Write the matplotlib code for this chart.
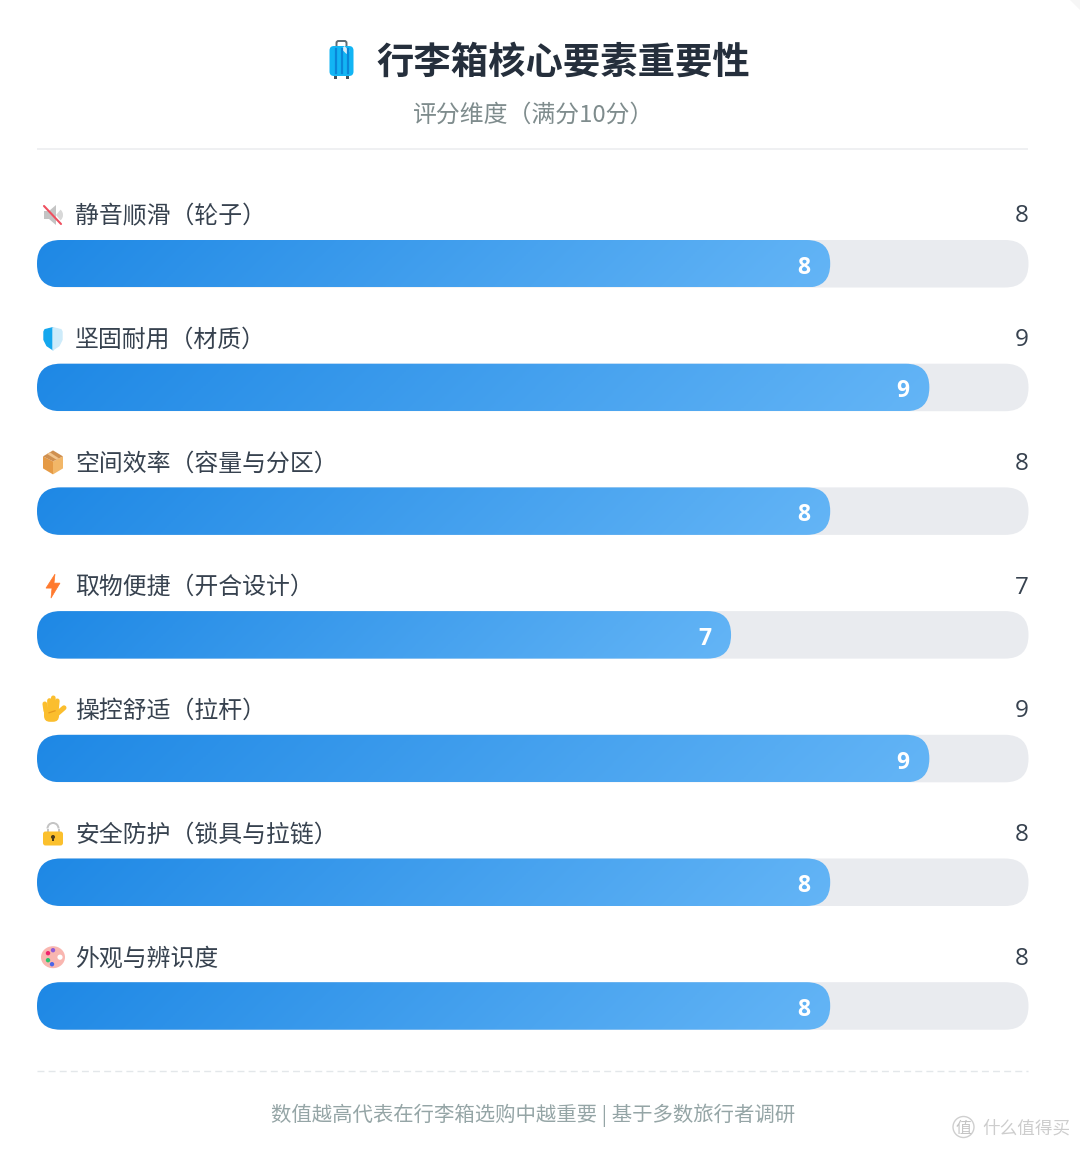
import numpy as np
import matplotlib
matplotlib.use("Agg")
import matplotlib.pyplot as plt
from matplotlib.patches import Circle, Ellipse, FancyBboxPatch, Polygon, Rectangle, Wedge
from matplotlib.colors import LinearSegmentedColormap

plt.rcParams["font.family"] = ["Noto Sans CJK SC", "DejaVu Sans"]

# Scores out of 10
labels = ["静音顺滑（轮子）", "坚固耐用（材质）", "空间效率（容量与分区）", "取物便捷（开合设计）",
          "操控舒适（拉杆）", "安全防护（锁具与拉链）", "外观与辨识度"]
scores = [8, 9, 8, 7, 9, 8, 8]
icons = ["mute", "shield", "box", "bolt", "hand", "lock", "palette"]

title = "行李箱核心要素重要性"
subtitle = "评分维度（满分10分）"
footer = "数值越高代表在行李箱选购中越重要 | 基于多数旅行者调研"
watermark = "什么值得买"

W, H = 1080, 1149
BAR_LEFT, BAR_RIGHT = 37, 1028.5
BAR_H = 47.5
RADIUS = 23.5
PX_PER_UNIT = (BAR_RIGHT - BAR_LEFT) / 10

fig = plt.figure(figsize=(W / 100, H / 100), dpi=100, facecolor="white")

# bars live on a 0-10 x scale, y stays in pixels
ax = fig.add_axes([BAR_LEFT / W, 0, (BAR_RIGHT - BAR_LEFT) / W, 1])
ax.set_axis_off()

# overlay in plain pixels for header, footer and icons
ov = fig.add_axes([0, 0, 1, 1], zorder=3)
ov.set_xlim(0, W)
ov.set_ylim(H, 0)
ov.set_axis_off()
ov.patch.set_alpha(0)

cmap = LinearSegmentedColormap.from_list("bar", ["#1E88E5", "#64B5F6"])


def pill(x1, top, color="none"):
    return FancyBboxPatch((0, top), x1, BAR_H,
                          boxstyle=f"round,pad=0,rounding_size={RADIUS / PX_PER_UNIT}",
                          mutation_aspect=PX_PER_UNIT, fc=color, ec="none")


def draw_bar(top, value):
    ax.add_patch(pill(10, top, "#E9EBEF"))
    w = value * PX_PER_UNIT
    # 135 degree gradient across the filled part
    xx, yy = np.meshgrid(np.linspace(0, w, 400), np.linspace(0, BAR_H, 24))
    grad = (xx + yy) / (w + BAR_H)
    im = ax.imshow(grad, extent=(0, value, top + BAR_H, top), cmap=cmap, vmin=0, vmax=1,
                   aspect="auto", interpolation="bilinear", zorder=2)
    clip = pill(value, top)
    ax.add_patch(clip)
    im.set_clip_path(clip)


def icon_mute(cx, cy):
    ov.add_patch(Polygon([(cx - 9, cy - 4), (cx - 4, cy - 4), (cx + 3, cy - 10), (cx + 3, cy + 10),
                          (cx - 4, cy + 4), (cx - 9, cy + 4)], fc="#C4C4C4", ec="none"))
    ov.add_patch(Wedge((cx + 3, cy), 7, -50, 50, fc="#D8D8D8", ec="none"))
    ov.plot([cx - 9, cx + 8], [cy - 9, cy + 9], color="#EF4F5F", lw=1.5, solid_capstyle="round")


def icon_shield(cx, cy):
    left = [(cx, cy - 11), (cx - 8, cy - 9), (cx - 9, cy - 7), (cx - 9, cy + 1), (cx - 6, cy + 7), (cx, cy + 11)]
    right = [(cx, cy - 11), (cx + 8, cy - 9), (cx + 9, cy - 7), (cx + 9, cy + 1), (cx + 6, cy + 7), (cx, cy + 11)]
    ov.add_patch(Polygon(left, fc="#14A7EE", ec="#14A7EE", lw=1, joinstyle="round"))
    ov.add_patch(Polygon(right, fc="#CDEBFA", ec="#CDEBFA", lw=1, joinstyle="round"))


def icon_box(cx, cy):
    ov.add_patch(Polygon([(cx - 10, cy - 6), (cx, cy - 1), (cx, cy + 12), (cx - 10, cy + 6)], fc="#E59A45", ec="none"))
    ov.add_patch(Polygon([(cx + 10, cy - 6), (cx, cy - 1), (cx, cy + 12), (cx + 10, cy + 6)], fc="#F2B768", ec="none"))
    ov.add_patch(Polygon([(cx - 10, cy - 6), (cx, cy - 12), (cx + 10, cy - 6), (cx, cy - 1)], fc="#CF9050", ec="none"))
    ov.add_patch(Polygon([(cx - 6, cy - 8.5), (cx - 3, cy - 10), (cx + 6, cy - 4), (cx + 3, cy - 3)], fc="#F2C48C", ec="none"))


def icon_bolt(cx, cy):
    pts = [(cx + 2, cy - 12), (cx - 7, cy + 2), (cx - 1, cy + 2), (cx - 2, cy + 12), (cx + 7, cy - 3), (cx + 1, cy - 3)]
    ov.add_patch(Polygon(pts, fc="#FF7A2E", ec="#FF7A2E", lw=0.5))


def icon_hand(cx, cy):
    yellow = "#FBBE2E"
    ov.add_patch(FancyBboxPatch((cx - 9, cy - 3), 15, 15, boxstyle="round,pad=0,rounding_size=6", fc=yellow, ec="none"))
    for dx, top, lean in [(-8, -6, -1), (-4.5, -10, 0), (-1, -12, 0.5), (2.5, -9, 1)]:
        ov.plot([cx + dx + 0.8, cx + dx + 0.8 + lean], [cy + 1, cy + top], color=yellow, lw=3.4, solid_capstyle="round")
    ov.plot([cx + 3, cx + 11], [cy + 5, cy - 2], color=yellow, lw=3.6, solid_capstyle="round")
    ov.plot([cx - 4, cx + 2], [cy + 3, cy + 1], color="#E69A1E", lw=0.9)


def icon_lock(cx, cy):
    ov.add_patch(Wedge((cx, cy - 5), 6.5, 180, 360, width=2, fc="#C4C4C4", ec="none"))
    ov.add_patch(Rectangle((cx - 6.5, cy - 5), 2, 5, fc="#C4C4C4", ec="none"))
    ov.add_patch(Rectangle((cx + 4.5, cy - 5), 2, 5, fc="#C4C4C4", ec="none"))
    ov.add_patch(FancyBboxPatch((cx - 10, cy - 2), 20, 14, boxstyle="round,pad=0,rounding_size=2.5", fc="#FBC02D", ec="none"))
    ov.add_patch(Circle((cx, cy + 3.5), 2, fc="#4A3A1A", ec="none"))
    ov.add_patch(Rectangle((cx - 0.8, cy + 3.5), 1.6, 4, fc="#4A3A1A", ec="none"))


def icon_palette(cx, cy):
    ov.add_patch(Ellipse((cx, cy), 24, 22, fc="#F9B6B0", ec="none"))
    ov.add_patch(Circle((cx + 7, cy), 2.6, fc="white", ec="none"))
    for dx, dy, c in [(-5, -4, "#F0246E"), (0, -7, "#8E5BD6"), (-5, 3, "#2CC36B"), (-1, 7, "#4A66E8")]:
        ov.add_patch(Circle((cx + dx, cy + dy), 2.2, fc=c, ec="none"))


def icon_suitcase(cx, cy):
    ov.add_patch(FancyBboxPatch((cx - 5, cy - 19), 10, 8, boxstyle="round,pad=0,rounding_size=2",
                                fc="none", ec="#5F6B73", lw=1.4))
    for dx in (-6, 6):
        ov.add_patch(Rectangle((cx + dx - 1.5, cy + 15), 3, 3.5, fc="#44505A", ec="none"))
    ov.add_patch(FancyBboxPatch((cx - 12, cy - 14), 24, 30, boxstyle="round,pad=0,rounding_size=4.5",
                                fc="#12B5F4", ec="none"))
    for dx in (-6, 0, 6):
        ov.plot([cx + dx, cx + dx], [cy - 11, cy + 13], color="#0A86D8", lw=1.6)
    ov.add_patch(Polygon([(cx + 0, cy - 11), (cx + 3, cy - 14), (cx + 8, cy - 9), (cx + 5, cy - 6)], fc="#D9EEF8", ec="none"))


ICON_DRAW = {"mute": icon_mute, "shield": icon_shield, "box": icon_box, "bolt": icon_bolt,
             "hand": icon_hand, "lock": icon_lock, "palette": icon_palette}

TEXT_DARK = "#37424F"

for i, (label, value, icon) in enumerate(zip(labels, scores, icons)):
    top = 240 + i * 123.7
    draw_bar(top, value)
    ax.text(value - 26.5 / PX_PER_UNIT, top + BAR_H / 2 + 4, str(value), color="white", fontsize=16.5,
            fontweight="bold", family=["Open Sans", "DejaVu Sans"], ha="center", va="center", zorder=4)
    ax.text(10, top - 23.5, str(value), color=TEXT_DARK, fontsize=17.5, fontweight="medium",
            family=["Open Sans", "DejaVu Sans"], ha="right", va="center")
    ov.text(75, top - 23.5, label, color=TEXT_DARK, fontsize=17.2, ha="left", va="center")
    ICON_DRAW[icon](53, top - 25)

ax.set_xlim(0, 10)
ax.set_ylim(H, 0)

# header
icon_suitcase(341.5, 60)
ov.text(376.5, 62, title, color="#252F3C", fontsize=26.9, fontweight="bold", ha="left", va="center")
ov.text(413, 115.5, subtitle, color="#7F8C8D", fontsize=17.2, ha="left", va="center")
ov.plot([BAR_LEFT, 1028], [149, 149], color="#ECEEF0", lw=1.2, solid_capstyle="butt")

# footer
ov.plot([BAR_LEFT, 1028], [1071, 1071], color="#E3E7EA", lw=1, ls=(0, (5, 3)))
ov.text(533, 1115, footer, color="#95A5A6", fontsize=14.7, ha="center", va="center")

# site mark, bottom right
ov.add_patch(Circle((963.5, 1127), 10.5, fc="none", ec="#CFCFCF", lw=1))
ov.text(963.5, 1128, "值", color="#C4C4C4", fontsize=11.5, ha="center", va="center")
ov.text(982, 1128, watermark, color="#CDCDCD", fontsize=12.7, ha="left", va="center")

# card corner at the top right
ov.add_patch(Polygon([(1070, 0), (W, 0), (W, 10)], fc="#F6F6F6", ec="none"))

fig.savefig("out.png", dpi=100, facecolor="white")
